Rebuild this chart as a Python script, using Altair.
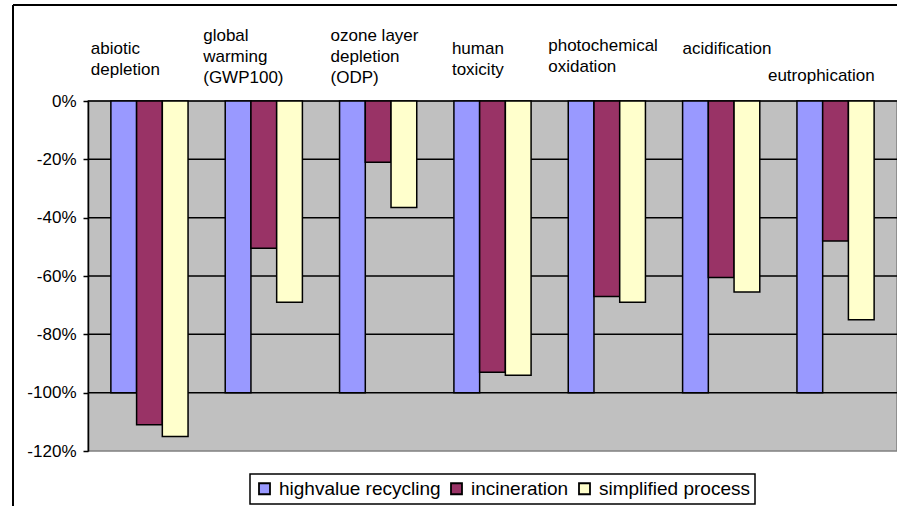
import altair as alt
import pandas as pd

categories = ["abiotic depletion", "global warming (GWP100)", "ozone layer depletion (ODP)",
              "human toxicity", "photochemical oxidation", "acidification", "eutrophication"]
category_lines = [["abiotic", "depletion"], ["global", "warming", "(GWP100)"],
                  ["ozone layer", "depletion", "(ODP)"], ["human", "toxicity"],
                  ["photochemical", "oxidation"], ["acidification"], ["eutrophication"]]
series = ["highvalue recycling", "incineration", "simplified process"]
highvalue = [-100, -100, -100, -100, -100, -100, -100]
incineration = [-111, -50.5, -21, -93, -67, -60.5, -48]
simplified = [-115, -69, -36.5, -94, -69, -65.5, -75]
y_ticks = [0, -20, -40, -60, -80, -100, -120]
grid_values = [0, -20, -40, -60, -80, -100]
colors = ["#9999FF", "#993366", "#FFFFCC"]

rows = []
for s, vals in zip(series, [highvalue, incineration, simplified]):
    for c, v in zip(categories, vals):
        rows.append({"category": c, "series": s, "value": v})
df = pd.DataFrame(rows)
cat_df = pd.DataFrame({"category": categories})
grid_df = pd.DataFrame({"v": grid_values})

FONT = "Liberation Sans"

x_scale = alt.Scale(domain=categories, paddingInner=0.325, paddingOuter=0.2)
y_scale = alt.Scale(domain=[-120, 0], nice=False)
y_axis = alt.Axis(values=y_ticks, labelExpr="datum.value + '%'", title=None, grid=False,
                  labelFont=FONT, labelFontSize=17, labelColor="black", labelPadding=7,
                  tickColor="black", tickSize=5, tickWidth=1.5, domainColor="black",
                  domainWidth=1.5, labelOverlap=False)

grid = alt.Chart(grid_df).mark_rule(color="black", strokeWidth=1.5).encode(
    y=alt.Y("v:Q", scale=y_scale, axis=y_axis)
)

bars = alt.Chart(df).mark_bar(stroke="black", strokeWidth=1.5).encode(
    x=alt.X("category:N", sort=categories, scale=x_scale, axis=None),
    xOffset=alt.XOffset("series:N", sort=series, scale=alt.Scale(domain=series, paddingInner=0, paddingOuter=0)),
    y=alt.Y("value:Q", scale=y_scale, axis=y_axis),
    color=alt.Color("series:N", scale=alt.Scale(domain=series, range=colors),
                    legend=alt.Legend(orient="none", legendX=162, legendY=373, direction="horizontal",
                                      title=None, symbolType="square", symbolSize=121,
                                      symbolStrokeColor="black", symbolStrokeWidth=1.8,
                                      labelFont=FONT, labelFontSize=19, labelColor="black",
                                      labelLimit=0,
                                      strokeColor="black", fillColor="white", padding=5,
                                      columnPadding=6, labelOffset=5)),
)

# label nudges (style only): (dx from band start, top y relative to plot top)
nudges = [(-20, -60), (-22, -73), (-9, -73), (-2, -60), (-20, -63), (0, -60), (-29, -33)]
layers = [grid, bars]
for c, lines, (dx, ty) in zip(categories, category_lines, nudges):
    t = alt.Chart(cat_df).transform_filter(alt.datum.category == c).mark_text(
        text=lines, align="left", baseline="top", dx=dx, lineHeight=21,
        font=FONT, fontSize=17, color="black"
    ).encode(
        x=alt.X("category:N", sort=categories, scale=x_scale, axis=None, bandPosition=0),
        y=alt.value(ty),
    )
    layers.append(t)

one = pd.DataFrame({"a": [0]})
frame_left = alt.Chart(one).mark_rule(color="black", strokeWidth=2).encode(
    x=alt.value(-75), y=alt.value(-96), y2=alt.value(406))
frame_top = alt.Chart(one).mark_rule(color="black", strokeWidth=2).encode(
    x=alt.value(-75), x2=alt.value(809), y=alt.value(-96))
layers += [frame_left, frame_top]

chart = alt.layer(*layers).properties(
    width=809, height=350,
    autosize=alt.AutoSizeParams(type="none"),
    padding={"left": 88, "top": 101, "right": 0, "bottom": 55},
    background="white",
).configure_view(fill="#C0C0C0", stroke="#808080", strokeWidth=1.5).configure_legend(strokeWidth=1.5)

chart.save("out.html", embed_options={"renderer": "svg", "actions": False})
